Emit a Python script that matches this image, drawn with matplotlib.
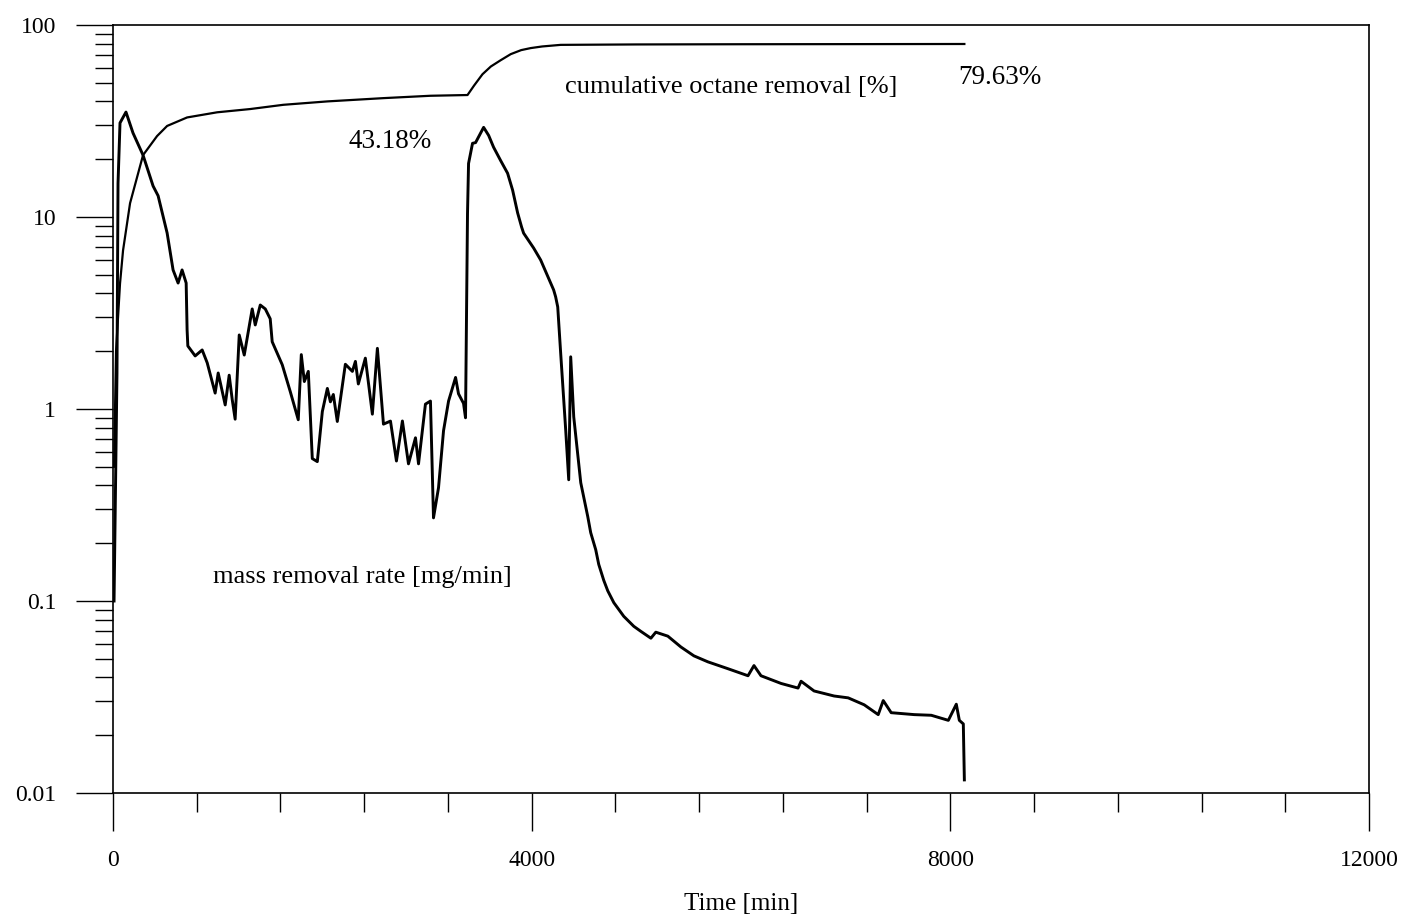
import matplotlib
matplotlib.use("Agg")
import matplotlib.pyplot as plt
from matplotlib.ticker import LogLocator, FixedLocator, NullFormatter, FixedFormatter

plt.rcParams['font.family'] = ['Liberation Serif', 'DejaVu Serif']

# mass removal rate [mg/min] vs time [min]
rate_time = [10, 38, 48, 67, 124, 191, 287, 383, 431, 517, 574, 622, 660, 699, 708, 715,
             785, 852, 900, 976, 1005, 1072, 1110, 1139, 1167, 1206, 1254, 1330, 1359, 1407,
             1455, 1502, 1521, 1617, 1694, 1770, 1799, 1828, 1866, 1904, 1952, 2000, 2048,
             2077, 2105, 2143, 2220, 2287, 2316, 2344, 2411, 2478, 2526, 2584, 2651, 2708,
             2765, 2823, 2890, 2919, 2985, 3033, 3062, 3110, 3158, 3206, 3273, 3301, 3349,
             3368, 3387, 3397, 3435, 3464, 3541, 3589, 3636, 3703, 3770, 3818, 3866, 3904,
             3923, 4019, 4086, 4115, 4210, 4229, 4249,
             4277, 4325, 4354, 4373, 4402, 4469, 4536, 4564, 4612, 4641, 4689, 4727, 4785,
             4880, 4976, 5043, 5139,
             5186, 5301, 5426, 5550, 5684, 5875, 6067, 6124, 6191, 6383, 6545, 6574, 6698,
             6890, 7024, 7177, 7311, 7359, 7435, 7655, 7818, 7981, 8057, 8086, 8124, 8134]
rate_value = [0.10, 1.54, 15.0, 30.9, 35.2, 27.4, 21.0, 14.5, 12.9, 8.26, 5.30, 4.53, 5.30,
              4.53, 2.58, 2.13, 1.89, 2.03, 1.74, 1.21, 1.54, 1.05, 1.50, 1.12, 0.885, 2.43,
              1.91, 3.32, 2.74, 3.48, 3.32, 2.95, 2.24, 1.70, 1.23, 0.879, 1.92, 1.39, 1.57,
              0.552, 0.532, 0.97, 1.28, 1.09, 1.19, 0.861, 1.71, 1.57, 1.77, 1.35, 1.84, 0.94,
              2.07, 0.834, 0.865, 0.536, 0.866, 0.518, 0.708, 0.518, 1.06, 1.10, 0.271, 0.389,
              0.771, 1.10, 1.46, 1.20, 1.07, 0.90, 10.4, 19.0, 24.2, 24.4, 29.3, 26.6, 23.1,
              19.7, 16.9, 13.8, 10.5, 8.86, 8.24, 6.89, 5.97, 5.49, 4.17, 3.84, 3.40,
              1.96, 0.78, 0.428, 1.87, 0.91, 0.413, 0.275, 0.227, 0.185, 0.155, 0.128, 0.113,
              0.098, 0.0832, 0.0738, 0.0695, 0.0640,
              0.0688, 0.0656, 0.0576, 0.0518, 0.0482,
              0.0444, 0.0408, 0.0461, 0.0408, 0.0372, 0.0352, 0.0382, 0.034, 0.032, 0.0313,
              0.0288, 0.0256, 0.0303, 0.0262, 0.0256, 0.0254, 0.0239, 0.029, 0.0239, 0.0229,
              0.0117]

# cumulative octane removal [%] vs time [min]
cum_time = [10, 29, 67, 96, 163, 287, 421, 517, 708, 995, 1311, 1627, 2048, 2584, 3033,
            3387, 3450, 3530, 3610, 3703, 3800, 3900, 3990, 4100, 4277, 5000, 6000, 7000, 8134]
cum_value = [0.5, 2.0, 4.5, 6.7, 11.8, 21.0, 26.4, 29.8, 33.0, 35.1, 36.5, 38.4, 40.0,
             41.6, 42.8, 43.18, 48.4, 55.4, 60.8, 65.5, 70.5, 74.0, 75.8, 77.3, 78.8,
             79.2, 79.4, 79.5, 79.63]

x_major = [0, 4000, 8000, 12000]
x_minor = [800, 1600, 2400, 3200, 4800, 5600, 6400, 7200, 8800, 9600, 10400, 11200]
y_major = [0.01, 0.1, 1, 10, 100]
y_labels = ['0.01', '0.1', '1', '10', '100']

fig = plt.figure(figsize=(14.07, 9.24), dpi=100)
ax = fig.add_axes([113 / 1407, 1 - 793 / 924, (1369 - 113) / 1407, (793 - 25) / 924])

ax.plot(rate_time, rate_value, color='black', lw=2.1, solid_joinstyle='round')
ax.plot(cum_time, cum_value, color='black', lw=1.6, solid_joinstyle='round')

ax.set_yscale('log')
ax.set_xlim(0, 12000)
ax.set_ylim(0.01, 100)

ax.yaxis.set_major_locator(FixedLocator(y_major))
ax.yaxis.set_major_formatter(FixedFormatter(y_labels))
ax.yaxis.set_minor_locator(LogLocator(base=10, subs=range(2, 10)))
ax.yaxis.set_minor_formatter(NullFormatter())
ax.xaxis.set_major_locator(FixedLocator(x_major))
ax.xaxis.set_minor_locator(FixedLocator(x_minor))

ax.tick_params(axis='y', which='major', direction='out', length=27, width=1.0,
               labelsize=17, pad=14)
ax.tick_params(axis='y', which='minor', direction='out', length=13, width=1.0)
ax.tick_params(axis='x', which='major', direction='out', length=27, width=1.0,
               labelsize=17, pad=14)
ax.tick_params(axis='x', which='minor', direction='out', length=14, width=1.0)

for s in ax.spines.values():
    s.set_linewidth(1.2)

ax.set_xlabel('Time [min]', fontsize=18, labelpad=16)

ax.text(5904, 47.5, 'cumulative octane removal [%]', fontsize=19, ha='center', va='center')
ax.text(8478, 53.6, '79.63%', fontsize=19.5, ha='center', va='center')
ax.text(2651, 24.6, '43.18%', fontsize=19.5, ha='center', va='center')
ax.text(2383, 0.133, 'mass removal rate [mg/min]', fontsize=19, ha='center', va='center')

fig.savefig('out.png', dpi=100)
